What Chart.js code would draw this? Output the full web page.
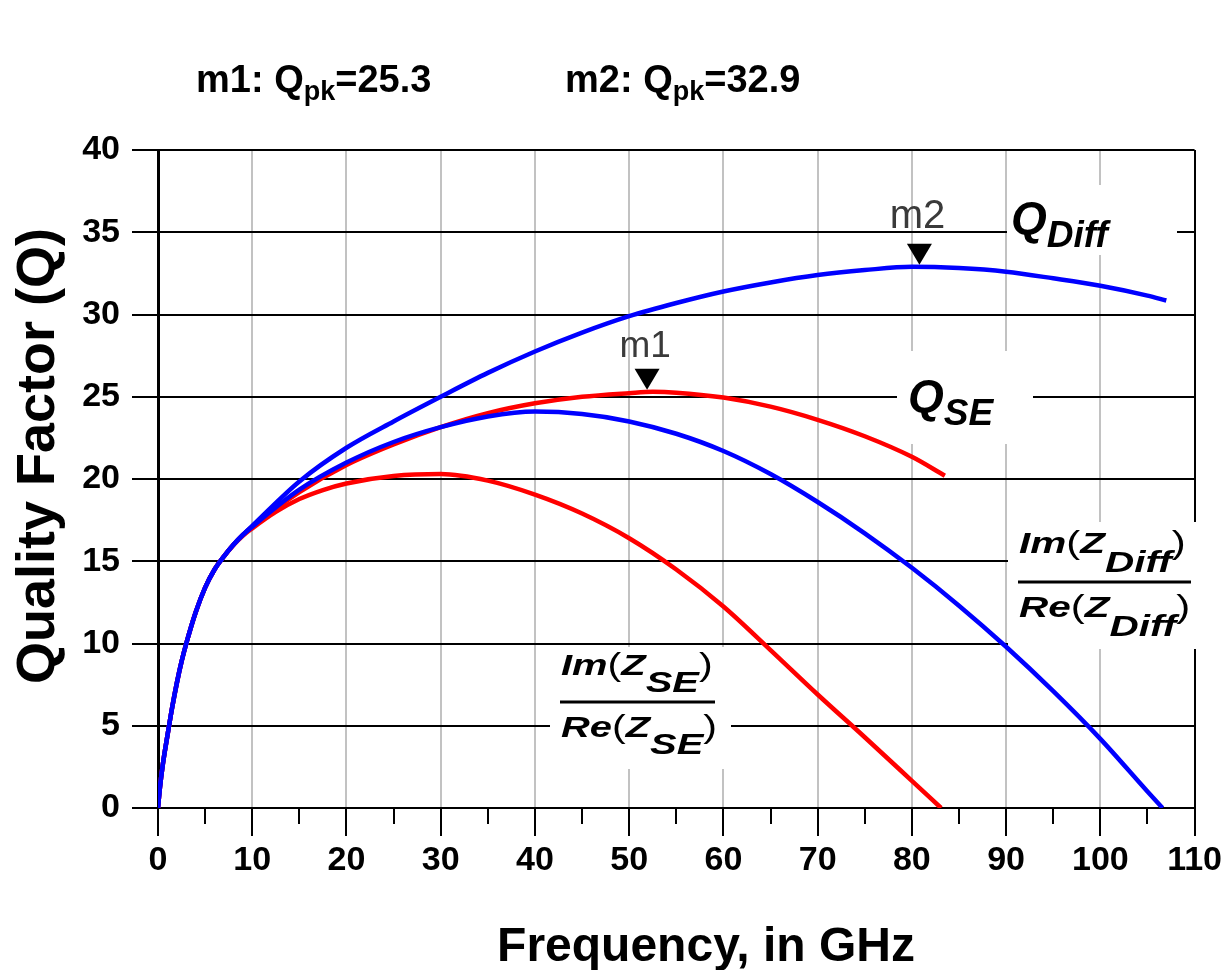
<!DOCTYPE html>
<html>
<head>
<meta charset="utf-8">
<script src="https://cdn.jsdelivr.net/npm/chart.js@4.4.0/dist/chart.umd.min.js"></script>
<style>
body { margin: 0; background: #fff; }
canvas { display: block; }
</style>
</head>
<body>
<canvas id="myChart" width="1226" height="970"></canvas>
<script>
// data (frequency in GHz, quality factor)
var qDiffFreq = [0, 0.2, 0.5, 1, 1.5, 2, 2.5, 3, 4, 5, 6, 7, 8, 9, 10, 15, 20, 25, 30, 35, 40, 45, 50, 55, 60, 65, 70, 75, 80, 85, 90, 95, 100, 105, 107];
var qDiffQ    = [0, 1.2, 2.6, 4.4, 6.1, 7.6, 8.9, 10, 11.9, 13.4, 14.5, 15.3, 16, 16.6, 17.15, 19.85, 21.9, 23.5, 25, 26.45, 27.75, 28.9, 29.9, 30.7, 31.4, 31.95, 32.4, 32.7, 32.9, 32.82, 32.6, 32.2, 31.75, 31.15, 30.85];

var imReDiffFreq = [0, 0.2, 0.5, 1, 1.5, 2, 2.5, 3, 4, 5, 6, 7, 8, 9, 10, 15, 20, 25, 30, 35, 40, 45, 50, 55, 60, 65, 70, 75, 80, 85, 90, 95, 100, 105, 106.6];
var imReDiffQ    = [0, 1.2, 2.6, 4.4, 6.1, 7.6, 8.9, 10, 11.9, 13.4, 14.5, 15.3, 16, 16.6, 17.1, 19.35, 21, 22.25, 23.15, 23.8, 24.1, 23.95, 23.5, 22.75, 21.7, 20.3, 18.6, 16.7, 14.6, 12.3, 9.8, 7.1, 4.2, 1, 0];

var qSEFreq = [0, 0.2, 0.5, 1, 1.5, 2, 2.5, 3, 4, 5, 6, 7, 8, 9, 10, 15, 20, 25, 30, 35, 40, 45, 50, 52.5, 55, 60, 65, 70, 75, 80, 83.5];
var qSEQ    = [0, 1.2, 2.6, 4.4, 6.1, 7.6, 8.9, 10, 11.9, 13.4, 14.5, 15.3, 16, 16.6, 17.1, 19.2, 20.85, 22.1, 23.15, 24, 24.6, 25, 25.22, 25.3, 25.25, 24.95, 24.4, 23.6, 22.6, 21.35, 20.2];

var imReSEFreq = [0, 0.2, 0.5, 1, 1.5, 2, 2.5, 3, 4, 5, 6, 7, 8, 9, 10, 12.5, 15, 17.5, 20, 25, 30, 35, 40, 45, 50, 55, 60, 65, 70, 75, 80, 83.1];
var imReSEQ    = [0, 1.2, 2.6, 4.4, 6.1, 7.6, 8.9, 10, 11.9, 13.4, 14.5, 15.3, 15.98, 16.55, 17, 18, 18.78, 19.33, 19.73, 20.18, 20.3, 19.9, 19.05, 17.9, 16.4, 14.5, 12.25, 9.6, 6.9, 4.3, 1.65, 0];

// peak markers
var markerNames = ["m1", "m2"];
var markerFreq = [51.9, 80.8];
var markerQ = [25.3, 32.9];

var xTickStep = 10;
var yTickStep = 5;

var FONT = '"Liberation Sans", Arial, sans-serif';

function toPoints(xs, ys) {
	var pts = [];
	for (var i = 0; i < xs.length; i++) {
		pts.push({ x: xs[i], y: ys[i] });
	}
	return pts;
}

// draws text pieces one after the other: [text, font, drop]
function drawSeq(ctx, x, y, parts) {
	for (var i = 0; i < parts.length; i++) {
		ctx.font = parts[i][1];
		ctx.fillText(parts[i][0], x, y + (parts[i][2] || 0));
		x += ctx.measureText(parts[i][0]).width;
	}
	return x;
}

function drawFrac(ctx, x0, numBase, denBase, sub, drop, sx, lineY, lx1, lx2) {
	var main = 'italic bold 30px ' + FONT;
	var par = '31px ' + FONT;
	ctx.save();
	ctx.translate(x0, 0);
	ctx.scale(sx, 1);
	drawSeq(ctx, 0, numBase, [["Im", main], ["(", par], ["Z", main], [sub, main, drop], [")", par]]);
	drawSeq(ctx, 0, denBase, [["Re", main], ["(", par], ["Z", main], [sub, main, drop], [")", par]]);
	ctx.restore();
	ctx.fillRect(lx1, lineY - 1.5, lx2 - lx1, 3);
}

var decor = {
	id: "decor",
	beforeDatasetsDraw: function(chart) {
		var ctx = chart.ctx;
		var xs = chart.scales.x, ys = chart.scales.y;
		ctx.save();
		// minor ticks on the frequency axis
		ctx.strokeStyle = "#000";
		ctx.lineWidth = 2;
		for (var v = xTickStep / 2; v < 110; v += xTickStep) {
			var px = Math.round(xs.getPixelForValue(v));
			ctx.beginPath();
			ctx.moveTo(px, ys.bottom);
			ctx.lineTo(px, ys.bottom + 16);
			ctx.stroke();
		}
		// white label boxes
		ctx.fillStyle = "#fff";
		ctx.fillRect(1007, 185, 170, 70);
		ctx.fillRect(897, 351, 136, 93);
		ctx.fillRect(1008, 522, 218, 127);
		ctx.fillRect(550, 647, 181, 122);
		// curve labels
		ctx.fillStyle = "#000";
		ctx.textBaseline = "alphabetic";
		ctx.textAlign = "left";
		drawSeq(ctx, 1011, 234, [["Q", "italic bold 46px " + FONT], ["Diff", "italic bold 37px " + FONT, 13]]);
		drawSeq(ctx, 908, 412, [["Q", "italic bold 46px " + FONT], ["SE", "italic bold 37px " + FONT, 13]]);
		drawFrac(ctx, 1019, 553, 617, "Diff", 18.5, 1.35, 582, 1018, 1191);
		drawFrac(ctx, 561, 675, 737, "SE", 17, 1.33, 702, 560, 715);
		ctx.restore();
	},
	afterDatasetsDraw: function(chart) {
		var ctx = chart.ctx;
		var xs = chart.scales.x, ys = chart.scales.y;
		ctx.save();
		for (var i = 0; i < markerNames.length; i++) {
			var px = xs.getPixelForValue(markerFreq[i]);
			var py = ys.getPixelForValue(markerQ[i]) - 2;
			ctx.fillStyle = "#000";
			ctx.beginPath();
			ctx.moveTo(px - 12.5, py - 21);
			ctx.lineTo(px + 12.5, py - 21);
			ctx.lineTo(px, py);
			ctx.closePath();
			ctx.fill();
			ctx.fillStyle = "#3a3a3a";
			ctx.font = (i == 0 ? "37px " : "40px ") + FONT;
			ctx.textAlign = "center";
			ctx.textBaseline = "alphabetic";
			ctx.fillText(markerNames[i], px - 2, py - (i == 0 ? 33 : 37));
		}
		ctx.restore();
	},
	afterDraw: function(chart) {
		var ctx = chart.ctx;
		ctx.save();
		ctx.fillStyle = "#000";
		ctx.textBaseline = "alphabetic";
		ctx.textAlign = "left";
		var big = "bold 38px " + FONT, small = "bold 27px " + FONT;
		drawSeq(ctx, 196, 92, [[markerNames[0] + ": Q", big], ["pk", small, 8], ["=" + markerQ[0].toFixed(1), big]]);
		drawSeq(ctx, 565, 92, [[markerNames[1] + ": Q", big], ["pk", small, 8], ["=" + markerQ[1].toFixed(1), big]]);
		// axis titles
		ctx.font = "bold 48px " + FONT;
		ctx.textAlign = "center";
		ctx.fillText("Frequency, in GHz", 706, 961);
		ctx.translate(54, 456);
		ctx.rotate(-Math.PI / 2);
		ctx.font = "bold 54px " + FONT;
		ctx.fillText("Quality Factor (Q)", 0, 0);
		ctx.restore();
	}
};

var ctx = document.getElementById("myChart");

var myChart = new Chart(ctx, {
	type: "line",
	data: {
		datasets: [
			{ label: "Q Diff", data: toPoints(qDiffFreq, qDiffQ), borderColor: "#0000ff" },
			{ label: "Im/Re Z Diff", data: toPoints(imReDiffFreq, imReDiffQ), borderColor: "#0000ff" },
			{ label: "Q SE", data: toPoints(qSEFreq, qSEQ), borderColor: "#ff0000" },
			{ label: "Im/Re Z SE", data: toPoints(imReSEFreq, imReSEQ), borderColor: "#ff0000" }
		]
	},
	options: {
		responsive: false,
		animation: false,
		layout: { padding: { left: 0, right: 29, top: 150, bottom: 0 } },
		elements: {
			line: { borderWidth: 4.5, fill: false, cubicInterpolationMode: "monotone" },
			point: { radius: 0, hoverRadius: 0 }
		},
		plugins: {
			legend: { display: false },
			tooltip: { enabled: false }
		},
		scales: {
			x: {
				type: "linear",
				min: 0,
				max: 110,
				afterFit: function(scale) { scale.height = 162; },
				ticks: {
					stepSize: xTickStep,
					autoSkip: false,
					maxRotation: 0,
					padding: 4,
					color: "#000",
					font: { family: FONT, size: 34, weight: "bold" }
				},
				grid: {
					color: function(c) {
						if (c.tick && (c.tick.value == 0 || c.tick.value == 110)) return "#000";
						return "#c2c2c2";
					},
					lineWidth: 2,
					tickColor: "#000",
					tickLength: 28
				},
				border: { color: "#000", width: 2 }
			},
			y: {
				min: 0,
				max: 40,
				afterFit: function(scale) { scale.width = 158; },
				ticks: {
					stepSize: yTickStep,
					padding: 12,
					color: "#000",
					font: { family: FONT, size: 34, weight: "bold" }
				},
				grid: {
					color: "#000",
					lineWidth: 2,
					tickColor: "#000",
					tickLength: 26
				},
				border: { color: "#000", width: 3 }
			}
		}
	},
	plugins: [decor]
});
</script>
</body>
</html>
